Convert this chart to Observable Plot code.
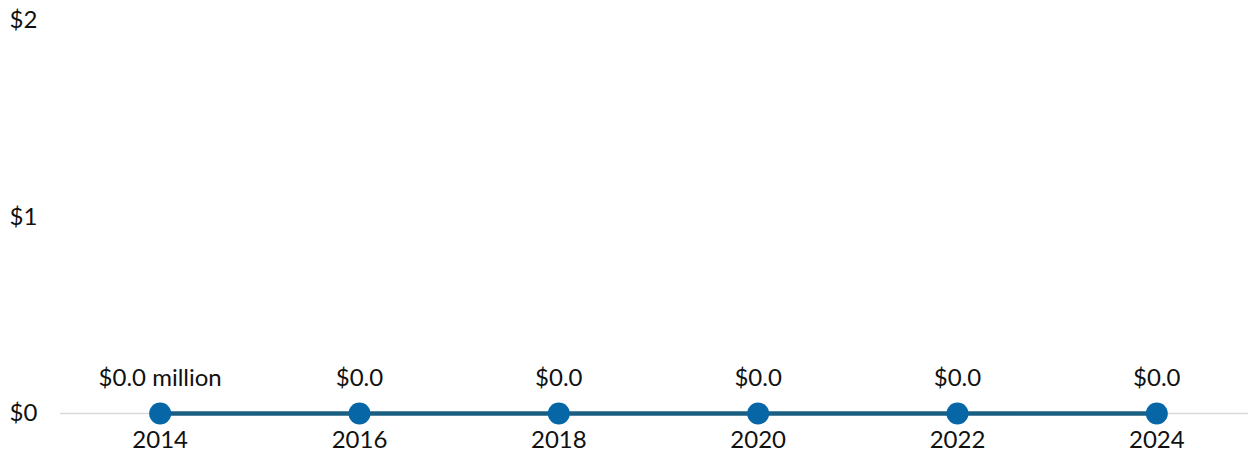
<!DOCTYPE html>
<html>
<head>
<meta charset="utf-8">
<script src="https://cdn.jsdelivr.net/npm/d3@7"></script>
<script src="https://cdn.jsdelivr.net/npm/@observablehq/plot@0.6"></script>
<style>
  html, body { margin: 0; padding: 0; background: #fff; }
  #chart { width: 1248px; height: 460px; }
  svg { font-family: Lato, "Open Sans", sans-serif; }
</style>
</head>
<body>
<div id="chart"></div>
<script>
const years = [2014, 2016, 2018, 2020, 2022, 2024];
const values = [0, 0, 0, 0, 0, 0];
const valueLabels = ["$0.0 million", "$0.0", "$0.0", "$0.0", "$0.0", "$0.0"];
const yTicks = [0, 1, 2];
const yTickLabels = ["$0", "$1", "$2"];

const data = years.map((y, i) => ({year: y, value: values[i], label: valueLabels[i]}));

const chart = Plot.plot({
  width: 1248,
  height: 460,
  marginLeft: 60,
  marginRight: 0,
  marginTop: 20,
  marginBottom: 47,
  style: {fontFamily: "Lato, 'Open Sans', sans-serif", fontSize: "24px", color: "#111"},
  x: {domain: [2013, 2024.92]},
  y: {domain: [0, 2]},
  marks: [
    Plot.ruleY([0], {stroke: "#d9d9d9", strokeWidth: 1.5}),
    Plot.axisY({ticks: yTicks, tickSize: 0, tickFormat: d => yTickLabels[yTicks.indexOf(d)], textAnchor: "start", dx: -42, fontSize: 24, fill: "#111", label: null}),
    Plot.axisX({ticks: years, tickSize: 0, tickPadding: 17, tickFormat: d => String(d), fontSize: 24, fill: "#111", label: null}),
    Plot.line(data, {x: "year", y: "value", stroke: "#1a5e80", strokeWidth: 4.5}),
    Plot.dot(data, {x: "year", y: "value", r: 11, fill: "#0767a6", stroke: "none"}),
    Plot.text(data, {x: "year", y: "value", text: "label", dy: -35, fontSize: 24, fill: "#111"})
  ]
});
document.getElementById("chart").appendChild(chart);
</script>
</body>
</html>
